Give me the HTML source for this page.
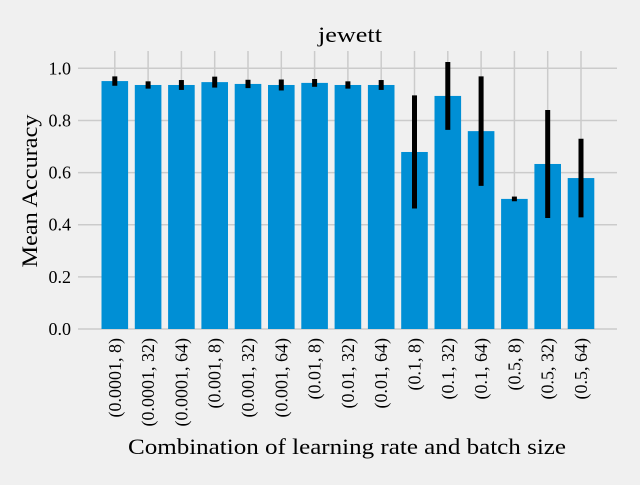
<!DOCTYPE html>
<html><head><meta charset="utf-8"><style>
body{margin:0;background:#f0f0f0;}
svg text{font-family:"Liberation Serif","DejaVu Serif",serif;fill:#000;}
</style></head><body>
<svg width="640" height="480" viewBox="0 0 640 480" id="chart">
<rect width="640" height="480" fill="#f0f0f0"/>
<text x="350" y="42" font-size="22" text-anchor="middle" textLength="64" lengthAdjust="spacingAndGlyphs">jewett</text>
<text x="0" y="0" font-size="22" text-anchor="middle" textLength="153" lengthAdjust="spacingAndGlyphs" transform="translate(37,191) rotate(-90)">Mean Accuracy</text>
<text x="347" y="454" font-size="22" text-anchor="middle" textLength="438" lengthAdjust="spacingAndGlyphs">Combination of learning rate and batch size</text>
<g id="grid"></g><g id="bars"></g><g id="errs"></g><g id="yt"></g><g id="xt"></g>
</svg>
<script>
const categories=["(0.0001, 8)","(0.0001, 32)","(0.0001, 64)","(0.001, 8)","(0.001, 32)","(0.001, 64)","(0.01, 8)","(0.01, 32)","(0.01, 64)","(0.1, 8)","(0.1, 32)","(0.1, 64)","(0.5, 8)","(0.5, 32)","(0.5, 64)"];
const means=[0.951,0.936,0.936,0.947,0.940,0.936,0.944,0.936,0.936,0.679,0.894,0.759,0.499,0.633,0.579];
const errors=[0.018,0.014,0.019,0.021,0.016,0.021,0.015,0.014,0.019,0.217,0.13,0.21,0.009,0.207,0.151];
const yTicks=[0,0.2,0.4,0.6,0.8,1.0];
const yTickLabels=["0.0","0.2","0.4","0.6","0.8","1.0"];
const NS="http://www.w3.org/2000/svg";
const step=33.3, x0=114.8;
function xs(i){return x0+i*step;}
function ys(v){return 329-v*260.7;}
function mk(t,a,p){const e=document.createElementNS(NS,t);for(const k in a)e.setAttribute(k,a[k]);document.getElementById(p).appendChild(e);return e;}
yTicks.forEach((v,i)=>{
 const l=mk('line',{x1:78,x2:617,y1:ys(v),y2:ys(v),stroke:'#cbcbcb','stroke-width':1.5},'grid');
 
 
 const t=mk('text',{x:71,y:ys(v)+6,'font-size':18,'text-anchor':'end'},'yt');
 t.textContent=yTickLabels[i];
 
 
});
categories.forEach((c,i)=>{
 const x=xs(i);
 const g=mk('line',{x1:x,x2:x,y1:51,y2:329,stroke:'#cbcbcb','stroke-width':1.5},'grid');
 
 
 const b=mk('rect',{x:x-13.3,width:26.6,y:ys(means[i]),height:ys(0)-ys(means[i]),fill:'#008fd5'},'bars');
 
 
 const e=mk('line',{x1:x,x2:x,y1:ys(means[i]+errors[i]),y2:ys(means[i]-errors[i]),stroke:'#000','stroke-width':5},'errs');
 
 
 const t=mk('text',{x:0,y:0,'font-size':18,'text-anchor':'end',transform:`translate(${x+6},338) rotate(-90)`},'xt');
 t.textContent=c;
 
 
});
</script>
</body></html>
